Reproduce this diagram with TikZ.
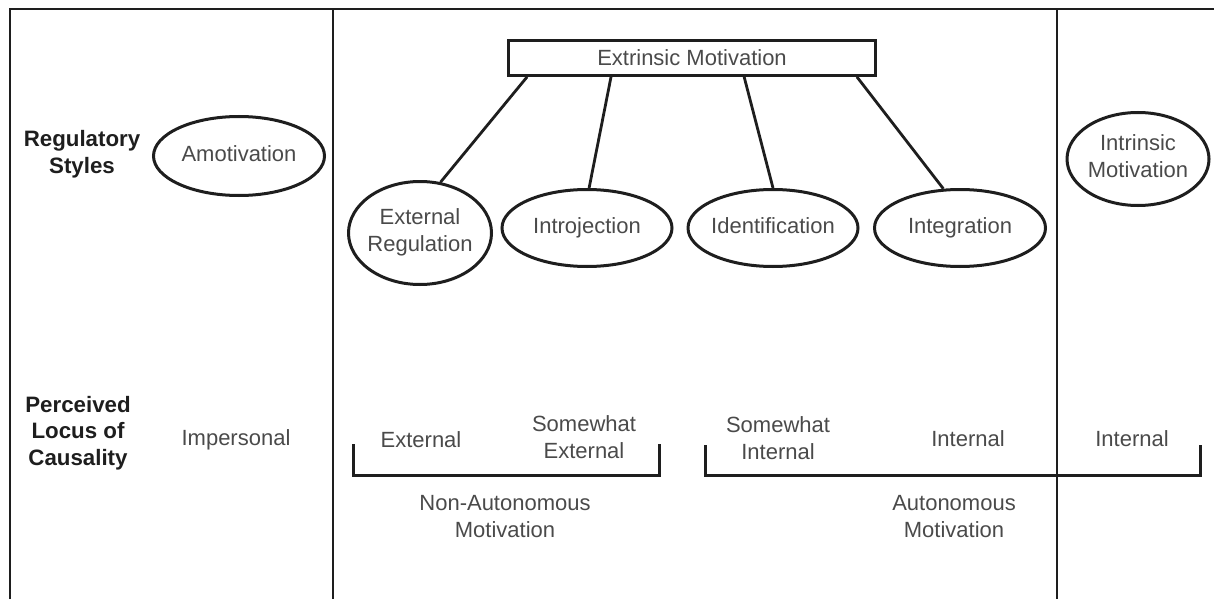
\documentclass[tikz,border=0pt]{standalone}
\usepackage{fontspec}
\setmainfont{Liberation Sans}
\usetikzlibrary{shapes.geometric,calc}
\definecolor{txt}{HTML}{4A4A4A}
\definecolor{ink}{HTML}{1E1E1E}
\newcommand{\fitbox}[1]{\makebox[60pt]{\begin{tabular}{@{}c@{}}#1\end{tabular}}}
\tikzset{
  frameline/.style={draw=ink,line width=2pt},
  vline/.style={draw=ink,line width=2.6pt},
  oval/.style={ellipse,draw=ink,line width=3pt,inner sep=0pt,text=txt,
    font=\fontsize{22}{27}\selectfont},
  rectbox/.style={rectangle,draw=ink,line width=2.8pt,inner sep=0pt,text=txt,
    font=\fontsize{22}{27}\selectfont},
  lbl/.style={align=center,text=txt,inner sep=0pt,font=\fontsize{22}{27}\selectfont},
  head/.style={align=center,text=ink,inner sep=0pt,font=\fontsize{22.3}{26.5}\selectfont\bfseries},
  link/.style={draw=ink,line width=2.8pt},
  bracket/.style={draw=ink,line width=3pt}
}
\begin{document}
\begin{tikzpicture}[x=1pt,y=-1pt]
\useasboundingbox (0,0) rectangle (1214,599);
% frame
\coordinate (tl) at (10,9);
\coordinate (tr) at (1214,9);
\coordinate (bl) at (10,599);
\coordinate (v1t) at (333,9);
\coordinate (v1b) at (333,599);
\coordinate (v2t) at (1057,9);
\coordinate (v2b) at (1057,599);
\draw[frameline] (bl) -- (tl) -- (tr);
\draw[vline] (v1t) -- (v1b);
\draw[vline] (v2t) -- (v2b);
% headings
\node[head] (rs) at (82,154) {Regulatory\\Styles};
\node[head] (plc) at (78,433) {Perceived\\Locus of\\Causality};
% top box
\node[rectbox,minimum width=367pt,minimum height=35pt] (em) at (692,58) {Extrinsic Motivation};
% ellipses
\node[oval,minimum width=171pt,minimum height=79pt] (amo) at (239,156) {\fitbox{Amotivation}};
\node[oval,minimum width=143pt,minimum height=103pt] (er) at (420,233) {\fitbox{External\\Regulation}};
\node[oval,minimum width=170pt,minimum height=77pt] (intro) at (587,228) {\fitbox{Introjection}};
\node[oval,minimum width=170pt,minimum height=77pt] (ident) at (773,228) {\fitbox{Identification}};
\node[oval,minimum width=171pt,minimum height=77pt] (integ) at (960,228) {\fitbox{Integration}};
\node[oval,minimum width=142pt,minimum height=93pt] (intr) at (1138,159) {\fitbox{Intrinsic\\Motivation}};
% connectors
\draw[link] ($(em.south west)!0.054!(em.south east)$) -- (er.68);
\draw[link] ($(em.south west)!0.281!(em.south east)$) -- (intro.87);
\draw[link] ($(em.south west)!0.641!(em.south east)$) -- (ident.90);
\draw[link] ($(em.south west)!0.946!(em.south east)$) -- (integ.113);
% locus labels
\node[lbl] (imp) at (236,440) {Impersonal};
\node[lbl] (ext) at (421,440) {External};
\node[lbl] (sext) at (584,437) {Somewhat\\External};
\node[lbl] (sint) at (778,438) {Somewhat\\Internal};
\node[lbl] (int1) at (968,439) {Internal};
\node[lbl] (int2) at (1132,439) {Internal};
\node[lbl] (nam) at (505,517) {Non-Autonomous\\Motivation};
\node[lbl] (am) at (954,517) {Autonomous\\Motivation};
% brackets
\coordinate (b1a) at (353,444);
\coordinate (b1b) at (353,475);
\coordinate (b1c) at (659,475);
\coordinate (b1d) at (659,444);
\coordinate (b2a) at (705,445);
\coordinate (b2b) at (705,475);
\coordinate (b2c) at (1200,475);
\coordinate (b2d) at (1200,445);
\draw[bracket] (b1a) -- (b1b) -- (b1c) -- (b1d);
\draw[bracket] (b2a) -- (b2b) -- (b2c) -- (b2d);
\end{tikzpicture}
\end{document}
